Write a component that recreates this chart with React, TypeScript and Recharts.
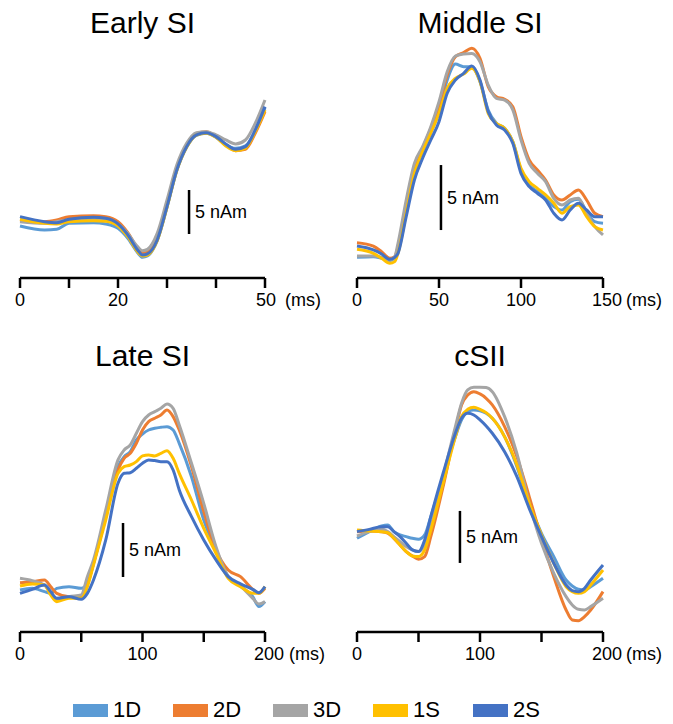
import React from "react";
import { LineChart, Line, XAxis, YAxis, ReferenceLine } from "recharts";

const SERIES = ["1D", "2D", "3D", "1S", "2S"];
const COLORS = ["#5B9BD5", "#ED7D31", "#A5A5A5", "#FFC000", "#4472C4"];

// Early SI (ms, nAm)
const earlyT = [0, 5, 7.5, 10, 15, 17.5, 20, 22, 24, 25, 26, 28, 30, 32, 34, 36, 38, 40, 42, 44, 46, 48, 50];
const early1D = [-0.68, -1.14, -1.06, -0.38, -0.3, -0.45, -0.95, -2.08, -3.71, -4.24, -4.09, -2.35, 1.44, 5.61, 8.26, 9.62, 9.85, 9.39, 8.55, 8.14, 8.41, 10.1, 12.8];
const early2D = [0, -0.19, 0, 0.38, 0.49, 0.38, -0.19, -1.44, -3.22, -3.71, -3.6, -1.97, 1.82, 5.87, 8.52, 9.85, 10.04, 9.47, 8.52, 7.88, 8.03, 9.85, 12.31];
const early3D = [-0.19, -0.38, -0.19, 0, 0.11, 0, -0.45, -1.52, -3.03, -3.48, -3.33, -1.52, 2.27, 6.25, 8.71, 9.92, 10.04, 9.66, 9.09, 8.64, 9.09, 10.98, 13.64];
const early1S = [0.08, -0.38, -0.45, -0.19, -0.08, -0.15, -0.68, -1.89, -3.6, -4.09, -3.98, -2.35, 1.44, 5.61, 8.26, 9.66, 9.85, 9.39, 8.41, 7.88, 8.14, 10.04, 12.5];
const early2S = [0.38, -0.19, -0.3, 0.08, 0.3, 0.19, -0.45, -1.7, -3.41, -3.98, -3.86, -2.27, 1.52, 5.68, 8.33, 9.66, 9.92, 9.47, 8.64, 8.03, 8.33, 10.23, 12.88];

// Middle SI
const midT = [0, 10, 15, 20, 23, 25, 30, 35, 40, 45, 50, 55, 60, 65, 70, 75, 80, 85, 90, 95, 100, 105, 110, 115, 120, 125, 130, 135, 140, 145, 150];
const mid1D = [-0.31, -0.26, -0.38, -0.56, -0.31, 0.26, 3.59, 6.41, 7.95, 9.36, 10.9, 13.33, 14.56, 14.36, 14.36, 13.21, 11.03, 10.0, 9.62, 8.59, 6.41, 5.26, 4.74, 4.23, 3.59, 3.33, 3.97, 4.15, 3.21, 2.44, 2.31];
const mid2D = [0.82, 0.56, 0.13, -0.38, -0.26, 0.51, 3.72, 6.54, 8.08, 9.62, 11.41, 13.72, 15.13, 15.44, 15.77, 15.0, 12.82, 12.05, 11.85, 11.28, 8.97, 7.18, 6.41, 5.64, 4.49, 4.1, 4.49, 4.87, 4.1, 3.08, 2.82];
const mid3D = [-0.21, -0.21, -0.31, -0.51, -0.26, 0.77, 4.1, 6.92, 8.21, 9.74, 11.67, 13.97, 15.18, 15.33, 15.38, 14.74, 12.95, 11.92, 11.79, 11.03, 8.72, 6.92, 6.15, 5.51, 4.23, 3.72, 4.1, 4.23, 3.08, 2.05, 1.41];
const mid1S = [0.31, 0, -0.38, -0.77, -0.64, 0, 3.08, 6.15, 7.82, 9.23, 10.77, 12.69, 13.46, 13.79, 14.23, 13.21, 10.77, 10.0, 9.62, 8.59, 6.54, 5.51, 5.0, 4.49, 3.85, 3.08, 3.59, 3.72, 2.82, 2.05, 1.79];
const mid2S = [0.56, 0.26, -0.05, -0.46, -0.31, 0, 2.82, 5.64, 7.31, 8.72, 10.13, 12.31, 13.33, 13.85, 14.41, 13.33, 10.9, 9.87, 9.49, 8.46, 6.15, 5.13, 4.62, 4.1, 3.08, 2.56, 3.33, 3.85, 3.33, 2.82, 2.82];

// Late SI
const lateT = [0, 10, 20, 25, 30, 40, 50, 55, 60, 70, 80, 85, 90, 95, 100, 105, 110, 115, 120, 125, 130, 140, 150, 160, 170, 180, 190, 195, 200];
const late1D = [0, 0.15, -0.15, -0.31, 0.15, 0.31, 0.15, 0.62, 2.47, 6.79, 11.42, 12.35, 12.81, 13.89, 14.44, 14.81, 14.97, 15.06, 15.12, 14.81, 13.58, 10.49, 6.48, 3.7, 1.23, 0.37, -0.62, -1.54, -1.08];
const late2D = [0.68, 0.77, 0.93, 0.31, -0.31, -0.62, -0.62, 0.46, 2.47, 6.79, 11.11, 12.19, 12.65, 13.58, 14.81, 15.59, 15.9, 16.2, 16.67, 16.05, 14.81, 11.42, 7.25, 3.7, 1.85, 1.23, 0.06, -0.31, 0.15];
const late3D = [1.08, 0.86, 0.46, -0.31, -0.93, -0.62, -0.46, 1.23, 2.78, 7.41, 12.04, 12.96, 13.43, 14.51, 15.59, 16.2, 16.51, 16.82, 17.22, 16.82, 15.28, 11.73, 8.02, 4.01, 1.23, 0.37, -0.77, -1.3, -1.08];
const late1S = [0.37, 0.56, 0.46, -0.46, -1.08, -0.77, -0.77, 0.31, 2.31, 6.48, 10.8, 11.42, 11.57, 11.88, 12.41, 12.5, 12.41, 12.65, 12.9, 12.19, 10.8, 8.33, 5.71, 3.4, 1.08, 0.31, -0.31, -0.31, 0.31];
const late2S = [-0.31, 0.06, 0.46, -0.15, -0.77, -0.62, -0.86, -0.31, 0.93, 4.63, 9.88, 10.8, 10.86, 11.27, 11.73, 12.04, 11.98, 11.88, 11.88, 11.11, 9.26, 6.79, 4.63, 2.78, 1.23, 0.56, 0.06, -0.25, 0.31];

// cSII
const csT = [0, 10, 20, 25, 30, 35, 40, 45, 50, 55, 60, 70, 80, 85, 90, 95, 100, 105, 110, 120, 130, 140, 150, 160, 170, 175, 180, 185, 190, 200];
const cs1D = [-0.48, 0.16, 0.71, 0.8, 0.16, -0.16, -0.32, -0.48, -0.58, -0.16, 1.6, 5.45, 9.29, 10.9, 11.7, 11.86, 11.79, 11.54, 11.06, 9.29, 6.41, 2.88, 0, -2.24, -4.49, -5.06, -5.38, -5.45, -5.13, -4.33];
const cs2D = [0.16, 0.22, 0.16, 0, -0.48, -1.12, -1.76, -2.18, -2.5, -2.24, -0.32, 4.49, 9.94, 12.34, 13.3, 13.62, 13.4, 12.98, 12.34, 10.26, 7.37, 3.53, -0.48, -4.17, -7.37, -8.33, -8.4, -8.01, -7.37, -5.61];
const cs3D = [-0.26, 0.16, 0.38, 0.16, -0.32, -0.8, -1.28, -1.6, -1.76, -1.12, 0.64, 5.45, 10.26, 12.5, 13.78, 14.04, 14.04, 14.01, 13.62, 11.22, 7.69, 2.88, -0.96, -3.85, -6.09, -6.89, -7.31, -7.37, -7.05, -6.25];
const cs1S = [0.32, 0.22, 0.16, 0.06, -0.48, -1.12, -1.76, -2.18, -2.24, -1.6, 0.32, 4.81, 9.29, 11.22, 11.92, 12.12, 11.92, 11.6, 11.06, 9.29, 6.57, 2.88, -0.16, -2.88, -5.13, -5.61, -5.77, -5.61, -4.97, -3.53];
const cs2S = [0.16, 0.38, 0.64, 0.64, 0.16, -0.32, -0.96, -1.6, -1.76, -0.64, 1.6, 5.77, 9.62, 11.06, 11.54, 11.38, 10.9, 10.32, 9.62, 7.85, 5.45, 2.4, -0.32, -2.88, -4.97, -5.51, -5.61, -5.29, -4.49, -3.04];

const FONT = "'Liberation Sans', Arial, sans-serif";

function toRows(t: number[], cols: number[][]) {
  return t.map((v, i) => {
    const row: Record<string, number> = { t: v };
    SERIES.forEach((s, k) => (row[s] = cols[k][i]));
    return row;
  });
}

const panels = [
  {
    title: "Early SI",
    rows: toRows(earlyT, [early1D, early2D, early3D, early1S, early2S]),
    xMax: 50,
    ticks: [0, 10, 20, 30, 40, 50],
    labels: [0, 20, 50],
    yDomain: [-6.59, 20.45],
    bar: { x: 34.5, y0: -1.59, y1: 3.41 },
    box: { left: 0, top: 40, width: 336, height: 278, ml: 20, mr: 71 },
    titleTop: 8,
    numDx: 1,
    msDx: 20,
  },
  {
    title: "Middle SI",
    rows: toRows(midT, [mid1D, mid2D, mid3D, mid1S, mid2S]),
    xMax: 150,
    ticks: [0, 50, 100, 150],
    labels: [0, 50, 100, 150],
    yDomain: [-1.9, 16.41],
    bar: { x: 51.2, y0: 1.79, y1: 6.79 },
    box: { left: 336, top: 40, width: 337, height: 278, ml: 21, mr: 70 },
    titleTop: 8,
    numDx: 4,
    msDx: 23,
  },
  {
    title: "Late SI",
    rows: toRows(lateT, [late1D, late2D, late3D, late1S, late2S]),
    xMax: 200,
    ticks: [0, 50, 100, 150, 200],
    labels: [0, 100, 200],
    yDomain: [-3.89, 19.44],
    bar: { x: 84.1, y0: 1.2, y1: 6.2 },
    box: { left: 0, top: 380, width: 336, height: 292, ml: 20, mr: 71 },
    titleTop: 341,
    numDx: 4,
    msDx: 24,
  },
  {
    title: "cSII",
    rows: toRows(csT, [cs1D, cs2D, cs3D, cs1S, cs2S]),
    xMax: 200,
    ticks: [0, 50, 100, 150, 200],
    labels: [0, 100, 200],
    yDomain: [-9.49, 14.74],
    bar: { x: 83.7, y0: -2.85, y1: 2.15 },
    box: { left: 336, top: 380, width: 337, height: 292, ml: 21, mr: 70 },
    titleTop: 341,
    numDx: 4,
    msDx: 23,
  },
];

function makeTick(labels: number[], last: number, numDx: number, msDx: number) {
  return (props: any) => {
    const { x, y, payload } = props;
    const v = payload.value;
    if (!labels.includes(v)) return <g />;
    const isLast = v === last;
    return (
      <g>
        <text x={x + (isLast ? numDx : 0)} y={y + 16} textAnchor="middle" fontSize={18} fill="#000" fontFamily={FONT}>
          {v}
        </text>
        {isLast && (
          <text x={x + msDx} y={y + 16} textAnchor="start" fontSize={18} fill="#000" fontFamily={FONT}>
            (ms)
          </text>
        )}
      </g>
    );
  };
}

function Panel({ p }: { p: (typeof panels)[number] }) {
  const b = p.box;
  const centerX = b.left + b.ml + (b.width - b.ml - b.mr) / 2;
  return (
    <>
      <div
        style={{
          position: "absolute",
          left: centerX - 100,
          width: 200,
          top: p.titleTop,
          textAlign: "center",
          fontSize: 30,
          lineHeight: "30px",
          color: "#000",
        }}
      >
        {p.title}
      </div>
      <div style={{ position: "absolute", left: b.left, top: b.top }}>
        <LineChart
          width={b.width}
          height={b.height}
          data={p.rows}
          margin={{ top: 0, right: b.mr, left: b.ml, bottom: 0 }}
        >
          <XAxis
            dataKey="t"
            type="number"
            domain={[0, p.xMax]}
            ticks={p.ticks}
            interval={0}
            height={40}
            tickSize={10}
            axisLine={{ stroke: "#000", strokeWidth: 2.5 }}
            tickLine={{ stroke: "#000", strokeWidth: 2.5 }}
            tick={makeTick(p.labels, p.xMax, p.numDx, p.msDx)}
          />
          <YAxis hide type="number" domain={p.yDomain} allowDataOverflow />
          {SERIES.map((s, i) => (
            <Line
              key={s}
              type="monotone"
              dataKey={s}
              stroke={COLORS[i]}
              strokeWidth={3}
              dot={false}
              activeDot={false}
              isAnimationActive={false}
            />
          ))}
          <ReferenceLine
            segment={[
              { x: p.bar.x, y: p.bar.y0 },
              { x: p.bar.x, y: p.bar.y1 },
            ]}
            stroke="#000"
            strokeWidth={2.5}
            label={{ value: "5 nAm", position: "right", offset: 6, fontSize: 18, fill: "#000" }}
          />
        </LineChart>
      </div>
    </>
  );
}

export default function App() {
  return (
    <div
      style={{
        position: "absolute",
        left: 0,
        top: 0,
        width: 673,
        height: 724,
        background: "#fff",
        fontFamily: FONT,
      }}
    >
      {panels.map((p) => (
        <Panel key={p.title} p={p} />
      ))}
      {SERIES.map((s, i) => (
        <div
          key={s}
          style={{
            position: "absolute",
            left: 73 + i * 100,
            top: 697,
            height: 26,
            display: "flex",
            alignItems: "center",
            gap: 5,
          }}
        >
          <span style={{ display: "inline-block", width: 35, height: 13, background: COLORS[i] }} />
          <span style={{ fontSize: 22, color: "#000" }}>{s}</span>
        </div>
      ))}
    </div>
  );
}
